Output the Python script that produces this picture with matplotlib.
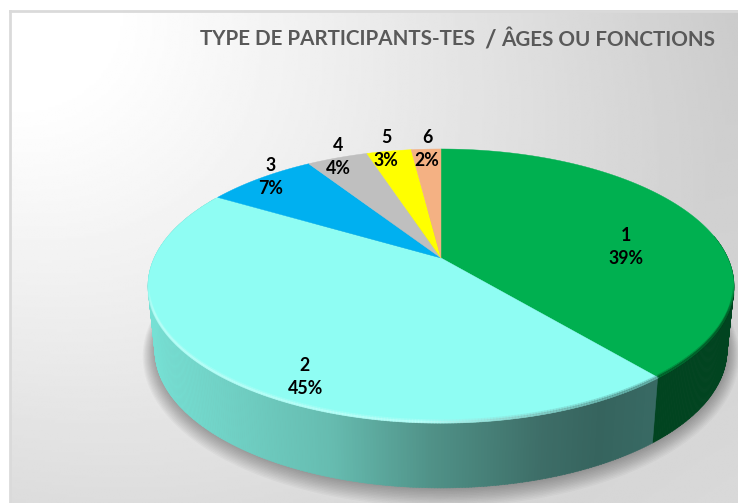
import numpy as np
import matplotlib
matplotlib.use("Agg")
import matplotlib.pyplot as plt
from matplotlib.collections import PolyCollection, LineCollection

# ---- data
categories = ["1", "2", "3", "4", "5", "6"]
shares = [39.0, 44.6, 7.4, 4.1, 3.0, 2.0]
colors = ["#00B050", "#8FFDF3", "#00B0F0", "#BFBFBF", "#FFFF00", "#F4B183"]
title_main = "TYPE DE PARTICIPANTS-TES"
title_slash = "/"
title_sub = "ÂGES OU FONCTIONS"
label_xy = [(626, 247), (305, 377), (271, 177), (338, 157), (386, 149), (427, 149)]

W, H = 738, 503
FONT = "Lato"
fig = plt.figure(figsize=(W / 100, H / 100), dpi=100)
ax = fig.add_axes([0, 0, 1, 1])
ax.axis("off")

# ---- background
yy, xx = np.mgrid[0:1:200j, 0:1:300j]
d = np.clip(np.sqrt((xx * 0.92) ** 2 + (yy * 0.68) ** 2), 0, 1)
g = 255 - 52 * np.clip((d - 0.12) / 0.8, 0, 1) ** 1.1
g = np.clip(g + 14 * yy * xx, 0, 255) / 255
ax.add_patch(plt.Rectangle((0, 0), W, H, fc="white", ec="none", zorder=0))
ax.imshow(g, cmap="gray", vmin=0, vmax=1, extent=(10, W, H, 10), aspect="auto",
          zorder=1, interpolation="bilinear")
ax.set_xlim(0, W)
ax.set_ylim(H, 0)
ax.plot([10, 10], [H, 10.5], color="#DADADA", lw=2, zorder=2)
ax.plot([10, W], [10.5, 10.5], color="#DADADA", lw=2, zorder=2)

# ---- perspective pie geometry
CX, K = 441.0, 0.2044


def rim(theta_deg, a, b, cy, grow=0.0):
    t = np.radians(theta_deg)
    X, Y = np.sin(t), np.cos(t)
    den = 1 + K * Y
    return CX + (a + grow) * X / den, cy - (b + grow) * Y / den


A_TOP, B_TOP, CY_TOP = 286.8, 131.3, 258.0
A_BOT, B_BOT, CY_BOT = 280.0, 132.0, 322.0

edges = np.concatenate([[0], np.cumsum(shares)]) / sum(shares) * 360

# ---- soft shadow
full = np.linspace(0, 360, 361)
for s in np.arange(12, 0, -1.0):
    x, y = rim(full, A_BOT, B_BOT, CY_BOT, grow=s)
    ax.fill(x, y + s * 0.3, color="black", alpha=0.028, lw=0, zorder=3)

# ---- side wall
grad_x = [150, 230, 330, 430, 540, 600, 660]
grad_r = [118, 112, 102, 80, 62, 54, 56]
grad_g = [224, 208, 188, 146, 110, 100, 106]
grad_b = [212, 196, 176, 136, 104, 94, 100]
polys, cols = [], []
for t0 in np.arange(80, 300, 0.5):
    t1 = t0 + 0.6
    xa, ya = rim(np.array([t0, t1]), A_TOP, B_TOP, CY_TOP)
    xc, yc = rim(np.array([t1, t0]), A_BOT, B_BOT, CY_BOT)
    polys.append(np.column_stack([np.r_[xa, xc], np.r_[ya, yc]]))
    xm = xa.mean()
    if t0 < edges[1]:
        cols.append((1 / 255, 68 / 255, 32 / 255))
    else:
        cols.append((np.interp(xm, grad_x, grad_r) / 255,
                     np.interp(xm, grad_x, grad_g) / 255,
                     np.interp(xm, grad_x, grad_b) / 255))
ax.add_collection(PolyCollection(polys, facecolors=cols, edgecolors=cols, linewidths=0.4, zorder=4))

# ---- top face
for i, c in enumerate(colors):
    t = np.linspace(edges[i], edges[i + 1], max(int(edges[i + 1] - edges[i]) * 2, 8))
    x, y = rim(t, A_TOP, B_TOP, CY_TOP)
    ax.fill(np.r_[CX, x], np.r_[CY_TOP, y], color=c, lw=0.3, zorder=5)

# ---- bevel along the front rim
segs, segc = [], []
for t0 in np.arange(102, 258, 0.5):
    fade = min((t0 - 102) / 12, (258 - t0) / 12, 1)
    for off, w in ((0.8, 0.55), (2.4, 0.25)):
        xa, ya = rim(np.array([t0, t0 + 0.6]), A_TOP, B_TOP, CY_TOP)
        segs.append(np.column_stack([xa, ya - off]))
        xm = xa.mean()
        if t0 < edges[1]:
            segc.append((0, 0.25, 0.1, w * fade))
        elif xm < 420:
            segc.append((0.78, 1, 0.98, w * fade))
        else:
            f = min((xm - 420) / 200, 1)
            segc.append((0.78 - 0.5 * f, 1 - 0.5 * f, 0.98 - 0.5 * f, w * fade))
ax.add_collection(LineCollection(segs, colors=segc, linewidths=1.8, zorder=6))

# ---- labels
for name, v, (lx, ly) in zip(categories, shares, label_xy):
    pct = round(v / sum(shares) * 100)
    ax.text(lx, ly, f"{name}\n{pct}%", ha="center", va="center", fontsize=12.8,
            fontweight="bold", family=FONT, color="black", linespacing=1.47, zorder=8)

# ---- title
ax.text(200, 39, title_main, ha="left", va="center", fontsize=14.9,
        fontweight="bold", family=FONT, color="#595959", zorder=8)
ax.text(484, 40, title_slash, ha="left", va="center", fontsize=18,
        fontweight="bold", family=FONT, color="#595959", zorder=8)
ax.text(501, 40, title_sub, ha="left", va="center", fontsize=14.9,
        fontweight="bold", family=FONT, color="#595959", zorder=8)

fig.savefig("out.png", dpi=100)
